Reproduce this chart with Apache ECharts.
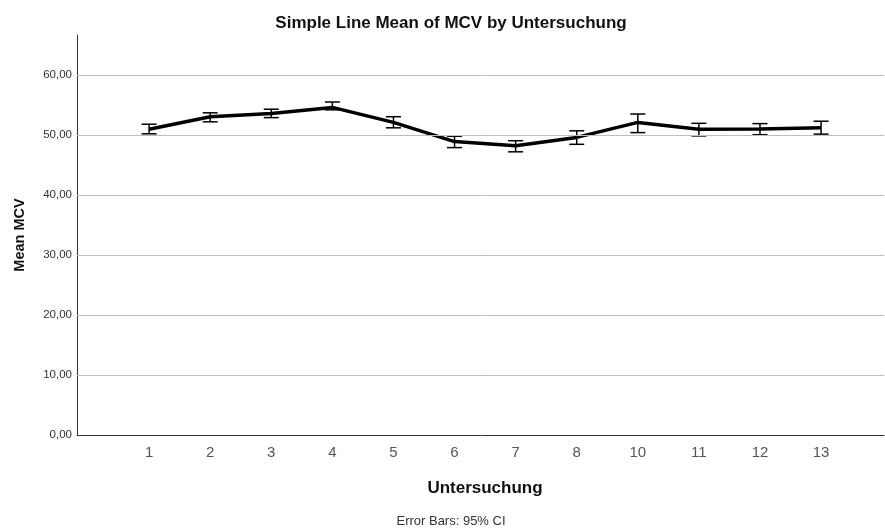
<!DOCTYPE html>
<html>
<head>
<meta charset="utf-8">
<script src="https://cdn.jsdelivr.net/npm/echarts@6/dist/echarts.min.js"></script>
<style>
    * { margin: 0; padding: 0; }
    body { background: #fff; }
    #main { width: 885px; height: 531px; }
</style>
</head>
<body>
<div id="main"></div>
<script>
    // Untersuchung (9 fehlt)
    const categories = ['1', '2', '3', '4', '5', '6', '7', '8', '10', '11', '12', '13']
    const means = [50.95, 53.05, 53.6, 54.6, 52.1, 48.9, 48.2, 49.6, 52.1, 50.95, 51.0, 51.2]
    const ciLow = [50.2, 52.2, 52.9, 54.2, 51.2, 47.9, 47.2, 48.45, 50.4, 49.85, 50.05, 50.15]
    const ciHigh = [51.8, 53.7, 54.3, 55.5, 53.05, 49.8, 49.05, 50.7, 53.5, 51.95, 51.9, 52.3]
    const yTicks = [0, 10, 20, 30, 40, 50, 60]

    const font = '"Liberation Sans", Arial, sans-serif'
    const idx = categories.map((c, i) => i)

    let myChart = echarts.init(document.getElementById('main'))
    let option = {
        animation: false,
        textStyle: { fontFamily: font },
        title: [
            {
                text: 'Simple Line Mean of MCV by Untersuchung',
                left: 446,
                textAlign: 'center',
                top: 10,
                textStyle: { fontSize: 17, fontWeight: 'bold', color: '#111', fontFamily: font }
            },
            {
                text: 'Error Bars: 95% CI',
                left: 446,
                textAlign: 'center',
                top: 510,
                textStyle: { fontSize: 13, fontWeight: 'normal', color: '#333', fontFamily: font }
            }
        ],
        grid: { left: 77, right: 1, top: 35, bottom: 96 },
        xAxis: {
            type: 'value',
            min: -1.18,
            max: 12.03,
            name: 'Untersuchung',
            nameLocation: 'middle',
            nameGap: 45,
            nameTextStyle: { fontSize: 17, fontWeight: 'bold', color: '#111', fontFamily: font, padding: [0, 0, 0, 9] },
            axisLine: { show: true, onZero: false, lineStyle: { color: '#333', width: 1 } },
            axisTick: { show: false },
            splitLine: { show: false },
            axisLabel: {
                customValues: idx,
                formatter: v => categories[Math.round(v)],
                fontSize: 15,
                color: '#555',
                margin: 10,
                fontFamily: font
            }
        },
        yAxis: {
            type: 'value',
            min: 0,
            max: 66.67,
            name: 'Mean MCV',
            nameLocation: 'middle',
            nameGap: 50,
            nameRotate: 90,
            nameTextStyle: { fontSize: 14.5, fontWeight: 'bold', color: '#111', fontFamily: font },
            axisLine: { show: true, onZero: false, lineStyle: { color: '#333', width: 1 } },
            axisTick: { show: false },
            splitLine: { show: false },
            axisLabel: {
                customValues: yTicks,
                formatter: v => v.toFixed(2).replace('.', ','),
                fontSize: 11.5,
                color: '#333',
                margin: 5,
                fontFamily: font
            }
        },
        series: [
            {
                type: 'line',
                data: means.map((m, i) => [i, m]),
                symbol: 'none',
                lineStyle: { color: '#000', width: 3.5 },
                z: 3,
                markLine: {
                    silent: true,
                    symbol: 'none',
                    label: { show: false },
                    lineStyle: { color: '#bdbdbd', width: 1, type: 'solid' },
                    data: yTicks.filter(t => t > 0).map(t => ({ yAxis: t }))
                }
            },
            {
                type: 'custom',
                data: ciLow.map((lo, i) => [i, lo, ciHigh[i]]),
                z: 4,
                renderItem: function (params, api) {
                    let lo = api.coord([api.value(0), api.value(1)])
                    let hi = api.coord([api.value(0), api.value(2)])
                    let hw = 7.5
                    let style = { stroke: '#000', lineWidth: 1.5 }
                    return {
                        type: 'group',
                        children: [
                            { type: 'line', shape: { x1: lo[0], y1: lo[1], x2: hi[0], y2: hi[1] }, style: style },
                            { type: 'line', shape: { x1: lo[0] - hw, y1: lo[1], x2: lo[0] + hw, y2: lo[1] }, style: style },
                            { type: 'line', shape: { x1: hi[0] - hw, y1: hi[1], x2: hi[0] + hw, y2: hi[1] }, style: style }
                        ]
                    }
                }
            }
        ]
    }
    myChart.setOption(option)
</script>
</body>
</html>
